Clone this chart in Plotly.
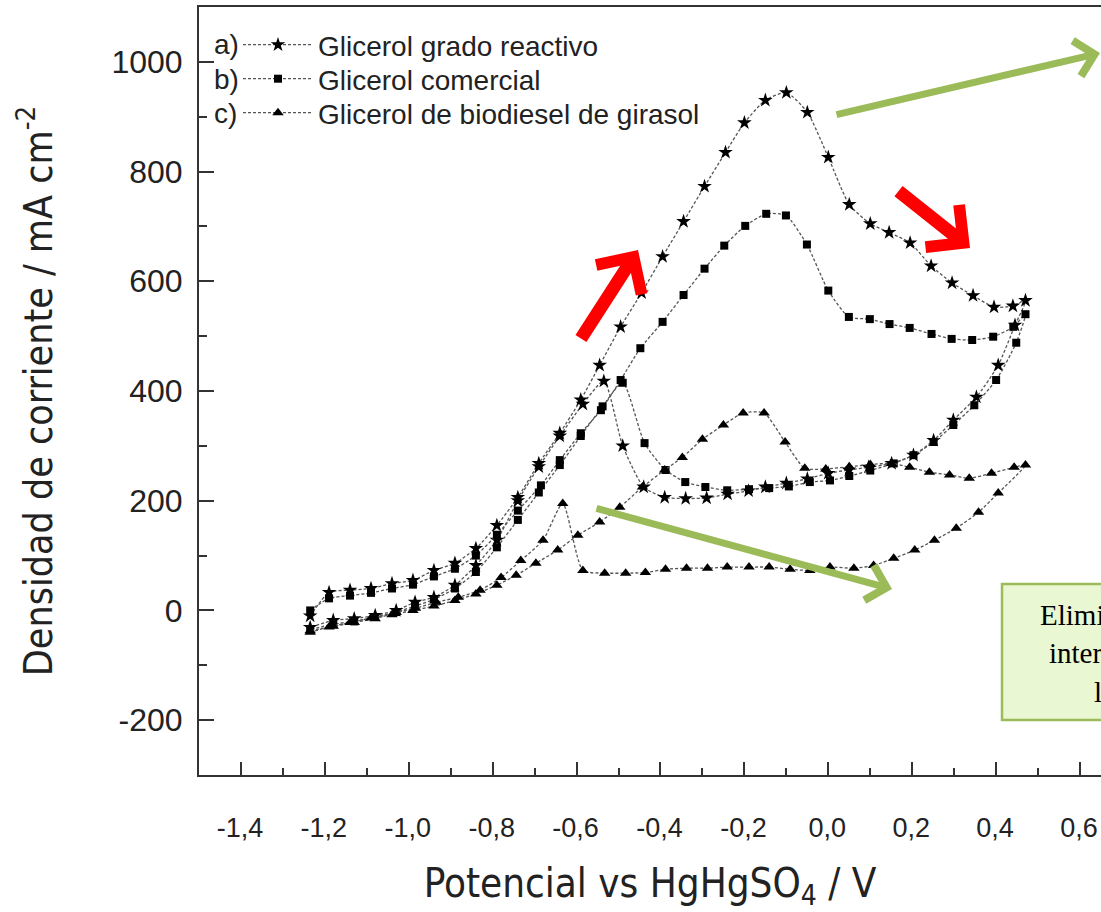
import plotly.graph_objects as go

# ---------------- data ----------------
# a) Glicerol grado reactivo  (stars)
a_fwd_x = [-1.235, -1.19, -1.14, -1.09, -1.04, -0.99, -0.94, -0.89, -0.84, -0.79, -0.74, -0.69,
           -0.64, -0.59, -0.545, -0.495, -0.445, -0.395, -0.345, -0.295, -0.245, -0.20, -0.15,
           -0.10, -0.05, 0.0, 0.05, 0.10, 0.145, 0.195, 0.245, 0.295, 0.345, 0.395, 0.44, 0.47]
a_fwd_y = [-10, 33, 37, 40, 49, 55, 73, 86, 113, 155, 206, 268,
           323, 384, 447, 517, 579, 645, 709, 773, 835, 889, 930,
           944, 908, 826, 740, 705, 689, 670, 628, 597, 574, 553, 555, 565]
a_rev_x = [0.445, 0.405, 0.353, 0.298, 0.251, 0.203, 0.151, 0.096, 0.049, 0.0, -0.05, -0.10,
           -0.15, -0.19, -0.24, -0.29, -0.34, -0.39, -0.44, -0.49, -0.535, -0.585, -0.64,
           -0.69, -0.74, -0.79, -0.84, -0.89, -0.94, -0.985, -1.03, -1.08, -1.13, -1.18, -1.235]
a_rev_y = [520, 447, 389, 347, 310, 283, 268, 261, 256, 250, 240, 232,
           225, 218, 212, 205, 204, 206, 225, 300, 418, 376, 318,
           262, 200, 128, 82, 46, 24, 15, 0, -9, -15, -18, -31]

# b) Glicerol comercial  (squares)
b_fwd_x = [-1.235, -1.19, -1.14, -1.09, -1.04, -0.99, -0.94, -0.89, -0.84, -0.79, -0.74, -0.685,
           -0.64, -0.59, -0.542, -0.495, -0.448, -0.395, -0.345, -0.295, -0.248, -0.198, -0.148,
           -0.101, -0.051, 0.0, 0.049, 0.099, 0.146, 0.194, 0.246, 0.294, 0.343, 0.393, 0.441, 0.47]
b_fwd_y = [0, 22, 27, 32, 40, 47, 62, 76, 100, 138, 182, 228,
           274, 323, 365, 420, 478, 526, 575, 623, 665, 701, 723,
           720, 667, 583, 535, 531, 522, 515, 504, 495, 493, 499, 517, 540]
b_rev_x = [0.448, 0.40, 0.348, 0.298, 0.251, 0.203, 0.156, 0.10, 0.05, 0.004, -0.044, -0.094,
           -0.141, -0.189, -0.241, -0.293, -0.341, -0.388, -0.438, -0.49, -0.538, -0.59, -0.64,
           -0.69, -0.74, -0.79, -0.84, -0.89, -0.94, -0.985, -1.03, -1.08, -1.13, -1.18, -1.235]
b_rev_y = [488, 420, 374, 338, 307, 283, 268, 255, 245, 237, 234, 226,
           223, 221, 219, 225, 234, 256, 305, 415, 372, 318, 265,
           215, 165, 115, 70, 40, 20, 8, -3, -12, -20, -25, -35]

# c) Glicerol de biodiesel de girasol  (triangles)
c_fwd_x = [-1.235, -1.19, -1.14, -1.09, -1.04, -0.99, -0.94, -0.89, -0.84, -0.79, -0.744, -0.697,
           -0.645, -0.597, -0.545, -0.497, -0.443, -0.39, -0.348, -0.30, -0.25, -0.203, -0.153,
           -0.103, -0.056, -0.006, 0.05, 0.10, 0.15, 0.194, 0.241, 0.289, 0.336, 0.389, 0.443, 0.47]
c_fwd_y = [-40, -30, -22, -14, -8, 0, 8, 18, 30, 46, 64, 86,
           110, 137, 161, 188, 225, 256, 279, 312, 338, 360, 360,
           307, 259, 258, 262, 266, 268, 261, 252, 247, 241, 250, 261, 265]
c_rev_x = [0.405, 0.358, 0.305, 0.253, 0.206, 0.156, 0.108, 0.061, 0.004, -0.044, -0.091, -0.141,
           -0.189, -0.241, -0.288, -0.338, -0.388, -0.436, -0.483, -0.533, -0.585, -0.633, -0.68,
           -0.733, -0.78, -0.83, -0.882, -0.934, -0.984, -1.03, -1.08, -1.13, -1.18, -1.235]
c_rev_y = [214, 179, 150, 128, 110, 95, 82, 77, 79, 73, 75, 79,
           79, 79, 77, 77, 75, 69, 68, 68, 73, 195, 128,
           91, 60, 37, 24, 15, 4, -4, -15, -22, -29, -37]

series_names = ["Glicerol grado reactivo", "Glicerol comercial", "Glicerol de biodiesel de girasol"]
series_tags = ["a)", "b)", "c)"]

x_tick_vals = [-1.4, -1.2, -1.0, -0.8, -0.6, -0.4, -0.2, 0.0, 0.2, 0.4, 0.6]
x_tick_text = ["-1,4", "-1,2", "-1,0", "-0,8", "-0,6", "-0,4", "-0,2", "0,0", "0,2", "0,4", "0,6"]
y_tick_vals = [-200, 0, 200, 400, 600, 800, 1000]
y_tick_text = ["-200", "0", "200", "400", "600", "800", "1000"]

# ---------------- figure ----------------
W, H = 1101, 912
PL, PR, PT, PB = 199, 1101, 7, 775


def px(xp):
    return (xp - PL) / (PR - PL)


def py(yp):
    return (PB - yp) / (PB - PT)


ROW_Y = [45, 79, 113]
LEG_FONT = 28

fig = go.Figure()
symbols = ["star", "square", "triangle-up"]
sizes = [11, 8, 10]
legend_ids = ["legend", "legend2", "legend3"]
data = [(a_fwd_x + a_rev_x, a_fwd_y + a_rev_y),
        (b_fwd_x + b_rev_x, b_fwd_y + b_rev_y),
        (c_fwd_x + c_rev_x, c_fwd_y + c_rev_y)]
for (xs, ys), name, sym, sz, lg in zip(data, series_names, symbols, sizes, legend_ids):
    fig.add_trace(go.Scatter(
        x=xs, y=ys, name=name, mode="lines+markers", legend=lg,
        line=dict(color="#555555", width=1.3, dash="3px,2px", shape="spline", smoothing=0.6),
        marker=dict(symbol=sym, size=sz, color="black", line=dict(width=0)),
    ))

NARROW = "Liberation Sans Narrow, Arial Narrow, DejaVu Sans Condensed, Liberation Sans"

legend_layout = {}
for lg, ry in zip(legend_ids, ROW_Y):
    legend_layout[lg] = dict(x=px(238), y=py(ry), xanchor="left", yanchor="middle",
                             font=dict(size=LEG_FONT, color="#222222"), bgcolor="rgba(0,0,0,0)",
                             borderwidth=0, itemwidth=70)

fig.update_layout(
    width=W, height=H,
    margin=dict(l=PL, r=W - PR, t=PT, b=H - PB, pad=0, autoexpand=False),
    paper_bgcolor="white", plot_bgcolor="white",
    font=dict(family="Liberation Sans, Arial, sans-serif", color="#222222"),
    showlegend=True,
    **legend_layout,
    xaxis=dict(
        range=[-1.5, 0.65], automargin=False,
        tickmode="array", tickvals=x_tick_vals, ticktext=x_tick_text,
        ticks="inside", ticklen=13, tickwidth=2, tickcolor="#333",
        minor=dict(ticks="inside", ticklen=7, tickwidth=2, tickcolor="#333", dtick=0.1, tick0=-1.5),
        showline=True, linecolor="#333", linewidth=2, mirror=True,
        showgrid=False, zeroline=False,
        tickfont=dict(family="Liberation Sans, Arial", size=27, color="#222"),
        ticklabelstandoff=28, ticklabeloverflow="allow", ticklabelshift=-1,
        title=dict(text="Potencial vs HgHgSO<sub>4</sub> / V",
                   font=dict(family=NARROW, size=40, color="#222"), standoff=36),
    ),
    yaxis=dict(
        range=[-300, 1100], automargin=False,
        tickmode="array", tickvals=y_tick_vals, ticktext=y_tick_text,
        ticks="inside", ticklen=15, tickwidth=2, tickcolor="#333",
        minor=dict(ticks="inside", ticklen=8, tickwidth=2, tickcolor="#333", dtick=100, tick0=-300),
        showline=True, linecolor="#333", linewidth=2, mirror=False,
        showgrid=False, zeroline=False,
        tickfont=dict(family="Liberation Sans, Arial", size=32, color="#222"),
        ticklabelstandoff=8,
        title=dict(text="Densidad de corriente / mA cm<sup>-2</sup>",
                   font=dict(family=NARROW, size=39, color="#222"), standoff=47),
    ),
)

# legend tags a) b) c)
for tag, ry in zip(series_tags, ROW_Y):
    fig.add_annotation(xref="paper", yref="paper", x=px(212), y=py(ry),
                       xanchor="left", yanchor="middle", text=tag, showarrow=False,
                       font=dict(size=LEG_FONT, color="#222"))

GREEN = "#9bbb59"
RED = "#ff0000"
# arrows: (tip_x, tip_y, tail_x, tail_y, color, width, size)
arrows = [
    (1122, 53, 835, 115, GREEN, 7, 1.0),
    (892, 589, 595, 508, GREEN, 7, 1.0),
    (638, 250, 580, 340, RED, 13, 0.8),
    (970, 248, 897, 190, RED, 13, 0.8),
]
for tx, ty, sx, sy, col, wdt, sz in arrows:
    fig.add_annotation(xref="paper", yref="paper", x=px(tx), y=py(ty),
                       ax=sx - tx, ay=sy - ty, axref="pixel", ayref="pixel",
                       text="", showarrow=True, arrowhead=4, arrowsize=sz,
                       arrowwidth=wdt, arrowcolor=col, standoff=0)

# green note box (cut at the right edge)
fig.add_shape(type="rect", xref="paper", yref="paper",
              x0=px(1002), x1=px(1300), y0=py(720), y1=py(584),
              fillcolor="#e9f7d2", line=dict(color=GREEN, width=2.5), layer="above")
note_lines = [("Eliminación de", 1038, 615), ("intermediarios", 1047, 653), ("la reacción", 1092, 692)]
for txt, lx, ly in note_lines:
    fig.add_annotation(xref="paper", yref="paper", x=px(lx), y=py(ly), xanchor="left",
                       yanchor="middle", text=txt, showarrow=False,
                       font=dict(family="Liberation Serif, Times New Roman, serif", size=29, color="black"))

fig.write_html("out.html", config={"displayModeBar": False},
               post_script="document.body.style.margin='0px';"
                           "document.body.style.overflow='hidden';"
                           "document.documentElement.style.overflow='hidden';"
                           "document.querySelectorAll('svg.main-svg').forEach(function(s){s.style.overflow='hidden';});")
